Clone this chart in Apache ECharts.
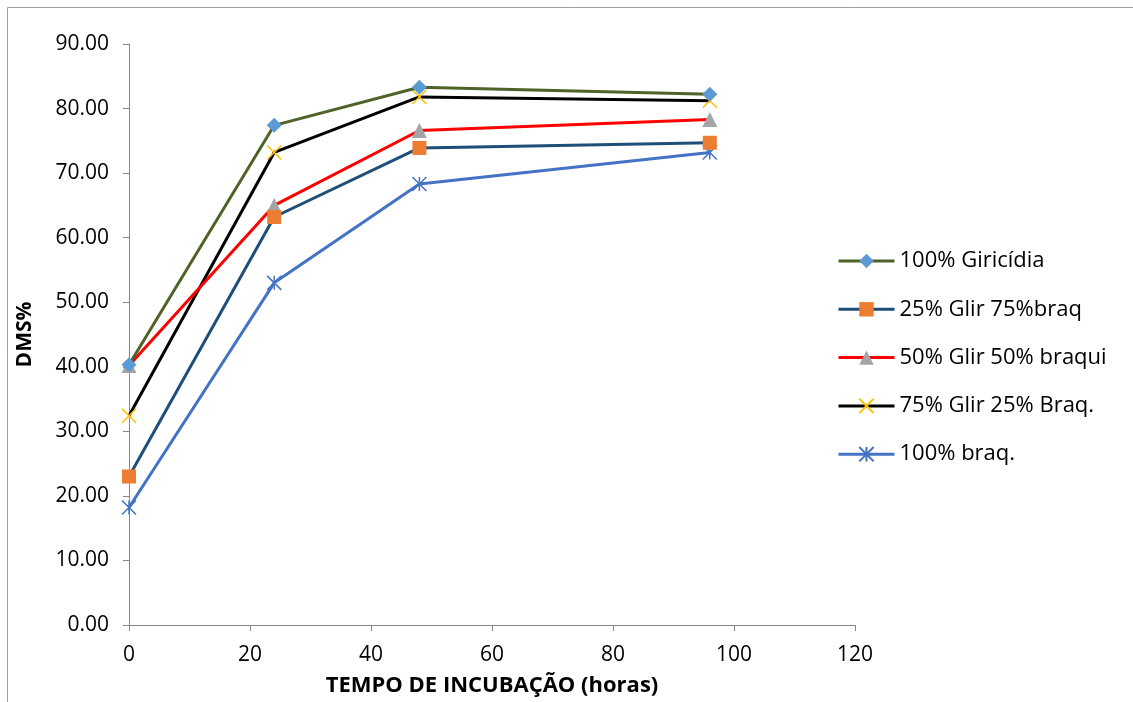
<!DOCTYPE html>
<html><head><meta charset="utf-8">
<script src="https://cdn.jsdelivr.net/npm/echarts@6/dist/echarts.min.js"></script>
<style>html,body{margin:0;padding:0;background:#fff}#c{width:1133px;height:702px}</style>
</head><body><div id="c"></div>
<script>
const hours = [0, 24, 48, 96];
const seriesNames = ['100% Giricídia', '25% Glir 75%braq', '50% Glir 50% braqui', '75% Glir 25% Braq.', '100% braq.'];
const giricidia100 = [40.3, 77.4, 83.3, 82.2];
const glir25 = [23.0, 63.2, 73.9, 74.7];
const glir50 = [40.2, 65.0, 76.6, 78.3];
const glir75 = [32.4, 73.2, 81.8, 81.2];
const braq100 = [18.2, 53.0, 68.3, 73.2];
const xTicks = [0, 20, 40, 60, 80, 100, 120];
const yTicks = [0, 10, 20, 30, 40, 50, 60, 70, 80, 90];

const font = '"Open Sans", sans-serif';
const pair = v => v.map((y, i) => [hours[i], y]);
const X_PATH = 'path://M0,0L10,10M10,0L0,10';
const STAR_PATH = 'path://M5,0L5,10M0,0L10,10M10,0L0,10';

const styles = [
  {line: '#4F6228', sym: 'diamond', size: 15, item: {color: '#5B9BD5'}},
  {line: '#1F4E79', sym: 'rect', size: 14, item: {color: '#ED7D31'}},
  {line: '#FF0000', sym: 'triangle', size: 15, item: {color: '#A5A5A5'}},
  {line: '#000000', sym: X_PATH, size: 14, item: {color: 'rgba(0,0,0,0)', borderColor: '#FFC000', borderWidth: 1.5}},
  {line: '#4472C4', sym: STAR_PATH, size: 14, item: {color: 'rgba(0,0,0,0)', borderColor: '#4472C4', borderWidth: 1.5}}
];
const data = [giricidia100, glir25, glir50, glir75, braq100];

const chart = echarts.init(document.getElementById('c'), null, {renderer: 'canvas'});
chart.setOption({
  animation: false,
  backgroundColor: '#fff',
  graphic: [{type: 'rect', shape: {x: 7.5, y: 7.5, width: 1140, height: 720}, style: {fill: 'none', stroke: '#a0a0a0', lineWidth: 1}, silent: true}],
  grid: {left: 129, right: 278, top: 44, bottom: 76},
  legend: {
    orient: 'vertical', left: 832, top: 245, itemGap: 26.3, itemWidth: 56, itemHeight: 18,
    lineStyle: {width: 3},
    textStyle: {fontFamily: font, fontSize: 22, color: '#000', padding: [0, 0, 0, 0]},
    data: seriesNames
  },
  xAxis: {
    type: 'value', min: 0, max: 120, interval: 20,
    name: 'TEMPO DE INCUBAÇÃO (horas)', nameLocation: 'middle', nameGap: 50,
    nameTextStyle: {fontFamily: font, fontSize: 22, fontWeight: 'bold', color: '#000'},
    axisLine: {lineStyle: {color: '#868686', width: 1}},
    axisTick: {show: true, length: 6, lineStyle: {color: '#868686'}},
    axisLabel: {fontFamily: font, fontSize: 21, color: '#000', margin: 20, formatter: v => xTicks.includes(v) ? String(v) : ''},
    splitLine: {show: false}
  },
  yAxis: {
    type: 'value', min: 0, max: 90, interval: 10,
    name: 'DMS%', nameLocation: 'middle', nameGap: 93, nameRotate: 90,
    nameTextStyle: {fontFamily: font, fontSize: 21, fontWeight: 'bold', color: '#000'},
    axisLine: {show: true, lineStyle: {color: '#868686', width: 1}},
    axisTick: {show: true, length: 6, lineStyle: {color: '#868686'}},
    axisLabel: {fontFamily: font, fontSize: 21, color: '#000', margin: 20, formatter: v => yTicks.includes(v) ? v.toFixed(2) : ''},
    splitLine: {show: false}
  },
  series: data.map((d, i) => ({
    name: seriesNames[i], type: 'line', data: pair(d),
    symbol: styles[i].sym, symbolSize: styles[i].size,
    lineStyle: {color: styles[i].line, width: 3},
    itemStyle: styles[i].item,
    color: styles[i].line,
    z: 10 - i
  }))
});
</script></body></html>
